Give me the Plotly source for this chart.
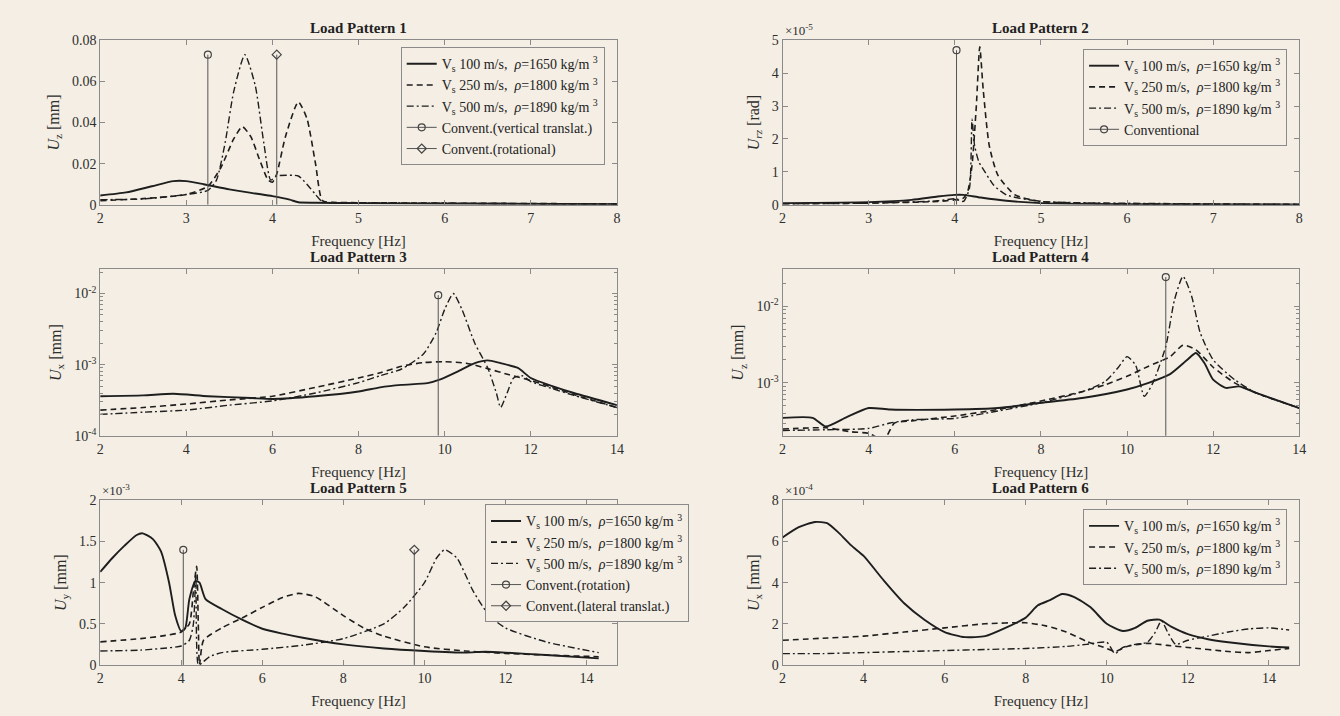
import plotly.graph_objects as go

# ---------------- data ----------------
# Panel 1 : Load Pattern 1, U_z [mm]
p1_x_s = [2, 2.3, 2.6, 2.85, 3.0, 3.2, 3.5, 3.8, 4.0, 4.2, 4.3, 4.5, 5, 6, 8]
p1_y_s = [0.0045, 0.006, 0.009, 0.0115, 0.0115, 0.010, 0.0075, 0.0055, 0.0042, 0.0025, 0.0012, 0.001, 0.0008, 0.0006, 0.0003]
p1_x_d = [2, 2.5, 3.0, 3.25, 3.4, 3.55, 3.65, 3.75, 3.85, 3.95, 4.0, 4.05, 4.15, 4.3, 4.4, 4.5, 4.58, 4.7, 5, 6, 8]
p1_y_d = [0.002, 0.003, 0.005, 0.009, 0.018, 0.032, 0.038, 0.033, 0.022, 0.012, 0.011, 0.015, 0.033, 0.050, 0.042, 0.02, 0.002, 0.0012, 0.001, 0.0008, 0.0004]
p1_x_dd = [2, 2.5, 3.0, 3.25, 3.35, 3.45, 3.55, 3.68, 3.8, 3.9, 3.98, 4.05, 4.3, 4.4, 4.5, 4.58, 5, 8]
p1_y_dd = [0.0025, 0.0028, 0.005, 0.007, 0.012, 0.03, 0.055, 0.073, 0.058, 0.03, 0.012, 0.014, 0.014, 0.01, 0.005, 0.0015, 0.001, 0.0004]
p1_conv_x = [3.25, 4.05]
p1_conv_y = [0.073, 0.073]

# Panel 2 : Load Pattern 2, U_rz [rad] (x 1e-5)
p2_x_s = [2, 3, 3.5, 3.8, 4.0, 4.1, 4.3, 4.6, 5, 6, 8]
p2_y_s = [0.05, 0.08, 0.15, 0.25, 0.3, 0.3, 0.22, 0.12, 0.05, 0.02, 0.01]
p2_x_d = [2, 3, 3.8, 4.0, 4.1, 4.15, 4.2, 4.25, 4.29, 4.33, 4.4, 4.5, 4.7, 5, 5.5, 6, 8]
p2_y_d = [0.03, 0.05, 0.1, 0.15, 0.2, 0.4, 1.2, 3.0, 4.8, 3.5, 1.8, 0.9, 0.3, 0.1, 0.05, 0.03, 0.01]
p2_x_dd = [2, 3, 3.8, 4.0, 4.1, 4.17, 4.2, 4.23, 4.28, 4.35, 4.45, 4.6, 5, 5.5, 8]
p2_y_dd = [0.03, 0.05, 0.12, 0.18, 0.1, 0.5, 2.6, 1.8, 1.3, 1.0, 0.6, 0.3, 0.1, 0.06, 0.01]
p2_conv_x = [4.02]
p2_conv_y = [4.7]

# Panel 3 : Load Pattern 3, U_x [mm] (log)
p3_x_s = [2, 3, 3.7, 4.5, 5.5, 6, 7, 8, 8.5, 9, 9.6, 9.9, 10.3, 10.7, 11.0, 11.3, 11.7, 12, 12.5, 13, 14]
p3_y_s = [3.6e-4, 3.7e-4, 3.9e-4, 3.6e-4, 3.4e-4, 3.3e-4, 3.6e-4, 4.2e-4, 4.8e-4, 5.2e-4, 5.5e-4, 6.2e-4, 8e-4, 1.05e-3, 1.15e-3, 1.05e-3, 9e-4, 6.5e-4, 5e-4, 4e-4, 2.7e-4]
p3_x_d = [2, 3, 4, 5, 6, 7, 8, 8.5, 9, 9.5, 10, 10.5, 11, 11.5, 12, 12.5, 13, 14]
p3_y_d = [2.3e-4, 2.5e-4, 2.8e-4, 3.2e-4, 3.6e-4, 4.8e-4, 6.5e-4, 7.7e-4, 9.5e-4, 1.07e-3, 1.1e-3, 1.05e-3, 8.8e-4, 7.2e-4, 6e-4, 4.8e-4, 3.8e-4, 2.5e-4]
p3_x_dd = [2, 3, 4, 5, 6, 7, 8, 8.5, 9, 9.5, 9.8, 10.0, 10.2, 10.4, 10.7, 11.0, 11.2, 11.3, 11.45, 11.6, 11.8, 12, 12.5, 13, 14]
p3_y_dd = [2.0e-4, 2.15e-4, 2.3e-4, 2.7e-4, 3.1e-4, 4e-4, 5.6e-4, 7e-4, 8.7e-4, 1.4e-3, 2.8e-3, 6e-3, 1.0e-2, 6e-3, 2e-3, 9e-4, 4e-4, 2.5e-4, 4e-4, 6.5e-4, 7e-4, 5.8e-4, 4.6e-4, 3.7e-4, 2.5e-4]
p3_conv_x = [9.85]
p3_conv_y = [9.5e-3]

# Panel 4 : Load Pattern 4, U_z [mm] (log)
p4_x_s = [2, 2.7, 3.0, 3.5, 4.0, 4.5, 6, 7, 8, 9, 10, 10.5, 11, 11.4, 11.6, 11.8, 12.0, 12.3, 12.6, 13, 14]
p4_y_s = [3.5e-4, 3.5e-4, 2.7e-4, 3.6e-4, 4.7e-4, 4.5e-4, 4.5e-4, 4.7e-4, 5.5e-4, 6.4e-4, 8.2e-4, 1.0e-3, 1.3e-3, 2.0e-3, 2.45e-3, 1.8e-3, 1.1e-3, 8.6e-4, 9e-4, 7.4e-4, 4.7e-4]
p4_x_d = [2, 3, 3.6, 4.0, 4.35, 4.6, 5, 6, 7, 8, 9, 9.5, 10, 10.5, 11, 11.3, 11.6, 12, 12.5, 13, 14]
p4_y_d = [2.5e-4, 2.6e-4, 2.3e-4, 2.2e-4, 1.8e-4, 3.0e-4, 3.2e-4, 3.7e-4, 4.5e-4, 5.8e-4, 7.8e-4, 9.5e-4, 1.22e-3, 1.65e-3, 2.2e-3, 3.1e-3, 2.7e-3, 1.6e-3, 1.0e-3, 7.4e-4, 4.7e-4]
p4_x_dd = [2, 3, 4, 4.5, 5, 6, 7, 8, 9, 9.5, 9.8, 10.0, 10.2, 10.4, 10.6, 10.9, 11.1, 11.3, 11.5, 11.7, 12.0, 12.5, 13, 14]
p4_y_dd = [2.4e-4, 2.45e-4, 2.55e-4, 3.0e-4, 3.3e-4, 3.45e-4, 4.3e-4, 5.5e-4, 7.8e-4, 1.05e-3, 1.6e-3, 2.2e-3, 1.7e-3, 6.7e-4, 1.0e-3, 3.0e-3, 1.2e-2, 2.45e-2, 1.35e-2, 4.5e-3, 2.0e-3, 1.1e-3, 7.4e-4, 4.7e-4]
p4_conv_x = [10.9]
p4_conv_y = [2.4e-2]

# Panel 5 : Load Pattern 5, U_y [mm] (x 1e-3)
p5_x_s = [2, 2.3, 2.6, 2.9, 3.05, 3.3, 3.5, 3.7, 3.85, 4.0, 4.1, 4.2, 4.35, 4.45, 4.6, 5.0, 5.5, 6.0, 6.5, 7, 8, 9, 10, 11, 11.5, 12, 13, 14.3]
p5_y_s = [1.13, 1.3, 1.45, 1.58, 1.6, 1.53, 1.38, 1.0, 0.6, 0.41, 0.45, 0.8, 1.02, 1.0, 0.8, 0.68, 0.55, 0.44, 0.38, 0.33, 0.25, 0.2, 0.17, 0.15, 0.16, 0.15, 0.12, 0.08]
p5_x_d = [2, 3, 3.5, 4.0, 4.2, 4.3, 4.38, 4.42, 4.45, 4.55, 5, 5.5, 6, 6.5, 6.9, 7.3, 8, 8.5, 9, 10, 11, 12, 13, 14.3]
p5_y_d = [0.28, 0.32, 0.35, 0.4, 0.5, 0.9, 1.2, 0.5, 0.0, 0.3, 0.45, 0.57, 0.7, 0.82, 0.87, 0.83, 0.6, 0.45, 0.35, 0.22, 0.17, 0.14, 0.12, 0.1]
p5_x_dd = [2, 3, 3.5, 4.0, 4.2, 4.3, 4.36, 4.42, 4.5, 4.7, 5, 6, 7, 8, 9, 9.5, 10, 10.3, 10.5, 10.8, 11.2, 11.6, 12, 13, 14.3]
p5_y_dd = [0.17, 0.18, 0.2, 0.23, 0.3, 0.5, 1.1, 0.0, 0.02, 0.1, 0.15, 0.19, 0.24, 0.32, 0.5, 0.7, 1.0, 1.3, 1.4, 1.3, 0.9, 0.6, 0.45, 0.28, 0.15]
p5_conv_rot_x = [4.05]
p5_conv_rot_y = [1.4]
p5_conv_lat_x = [9.75]
p5_conv_lat_y = [1.4]

# Panel 6 : Load Pattern 6, U_x [mm] (x 1e-4)
p6_x_s = [2, 2.4, 2.8, 3.1, 3.4, 3.7, 4.0, 4.5, 5, 5.5, 6, 6.5, 7, 7.5, 8, 8.3, 8.6, 8.9, 9.2, 9.6, 10, 10.4, 10.7, 11, 11.3, 11.6, 12, 12.5, 13, 14, 14.5]
p6_y_s = [6.2, 6.7, 6.95, 6.9, 6.4, 5.8, 5.3, 4.1, 3.0, 2.2, 1.6, 1.35, 1.4, 1.8, 2.3, 2.9, 3.15, 3.45, 3.3, 2.8, 2.0, 1.65, 1.8, 2.15, 2.2, 1.85, 1.5, 1.25, 1.1, 0.9, 0.85]
p6_x_d = [2, 3, 4, 5, 6, 7, 8, 8.5, 9, 9.5, 10, 10.2, 10.5, 11, 11.5, 12, 13, 13.5, 14, 14.5]
p6_y_d = [1.2, 1.3, 1.4, 1.6, 1.8, 2.0, 2.05, 1.9, 1.6, 1.15, 0.8, 0.65, 0.9, 1.05, 0.95, 0.85, 0.65, 0.6, 0.7, 0.8]
p6_x_dd = [2, 3, 4, 5, 6, 7, 8, 9, 9.5, 10.0, 10.2, 10.4, 10.7, 11.0, 11.2, 11.35, 11.5, 11.7, 12, 12.5, 13, 13.5, 14, 14.5]
p6_y_dd = [0.55, 0.55, 0.6, 0.65, 0.7, 0.75, 0.8, 0.9, 1.0, 1.1, 0.55, 0.85, 1.0, 1.1, 1.6, 2.15, 1.6, 1.0, 1.2, 1.4, 1.6, 1.75, 1.8, 1.7]

series_names = ["V<sub>s</sub> 100 m/s,  <i>ρ</i>=1650 kg/m <sup>3</sup>",
                "V<sub>s</sub> 250 m/s,  <i>ρ</i>=1800 kg/m <sup>3</sup>",
                "V<sub>s</sub> 500 m/s,  <i>ρ</i>=1890 kg/m <sup>3</sup>"]

# ---------------- style ----------------
BG = '#f4eee4'
INK = '#1e1e1e'
AX = '#8a8a8a'
TXT = '#2e2e2e'
FONT = 'Liberation Serif'
W, H = 1340, 716

dash_styles = [dict(width=1.9, dash='solid'),
               dict(width=1.6, dash='6px,4px'),
               dict(width=1.4, dash='7px,3px,2px,3px')]

# panel geometry in pixels: (left, right) / (top, bottom)
cols = [(97, 618), (785, 1306)]
rows = [(34, 202), (268, 438), (504, 672)]

def xdom(c):
    return [cols[c][0] / W, cols[c][1] / W]

def ydom(r):
    return [1 - rows[r][1] / H, 1 - rows[r][0] / H]

fig = go.Figure()

panels = [
    dict(r=0, c=0, series=[(p1_x_s, p1_y_s), (p1_x_d, p1_y_d), (p1_x_dd, p1_y_dd)], legend='legend'),
    dict(r=0, c=1, series=[(p2_x_s, p2_y_s), (p2_x_d, p2_y_d), (p2_x_dd, p2_y_dd)], legend='legend2'),
    dict(r=1, c=0, series=[(p3_x_s, p3_y_s), (p3_x_d, p3_y_d), (p3_x_dd, p3_y_dd)], legend=None),
    dict(r=1, c=1, series=[(p4_x_s, p4_y_s), (p4_x_d, p4_y_d), (p4_x_dd, p4_y_dd)], legend=None),
    dict(r=2, c=0, series=[(p5_x_s, p5_y_s), (p5_x_d, p5_y_d), (p5_x_dd, p5_y_dd)], legend='legend3'),
    dict(r=2, c=1, series=[(p6_x_s, p6_y_s), (p6_x_d, p6_y_d), (p6_x_dd, p6_y_dd)], legend='legend4'),
]

for i, p in enumerate(panels):
    xa = 'x' if i == 0 else f'x{i+1}'
    ya = 'y' if i == 0 else f'y{i+1}'
    for k, (xs, ys) in enumerate(p['series']):
        fig.add_trace(go.Scatter(
            x=xs, y=ys, mode='lines', xaxis=xa, yaxis=ya,
            line=dict(color=INK, shape='spline', smoothing=0.6, **dash_styles[k]),
            name=series_names[k], showlegend=p['legend'] is not None,
            legend=p['legend'] if p['legend'] else 'legend'))

def add_stems(i, xs, ys, base, symbol, name, legend):
    xa = 'x' if i == 0 else f'x{i+1}'
    ya = 'y' if i == 0 else f'y{i+1}'
    for x0, y0 in zip(xs, ys):
        fig.add_trace(go.Scatter(x=[x0, x0], y=[base, y0], mode='lines', xaxis=xa, yaxis=ya,
                                 line=dict(color='#555555', width=1), showlegend=False, hoverinfo='skip'))
        fig.add_trace(go.Scatter(x=[x0], y=[y0], mode='markers', xaxis=xa, yaxis=ya,
                                 marker=dict(symbol=symbol, size=7, color='#444444', line=dict(width=1.2, color='#444444')),
                                 showlegend=False))
    if name:
        fig.add_trace(go.Scatter(x=[None], y=[None], mode='lines+markers', xaxis=xa, yaxis=ya,
                                 line=dict(color='#555555', width=1),
                                 marker=dict(symbol=symbol, size=7, color='#444444', line=dict(width=1.2, color='#444444')),
                                 name=name, legend=legend))

add_stems(0, p1_conv_x[:1], p1_conv_y[:1], 0, 'circle-open', 'Convent.(vertical translat.)', 'legend')
add_stems(0, p1_conv_x[1:], p1_conv_y[1:], 0, 'diamond-open', 'Convent.(rotational)', 'legend')
add_stems(1, p2_conv_x, p2_conv_y, 0, 'circle-open', 'Conventional', 'legend2')
add_stems(2, p3_conv_x, p3_conv_y, 1e-4, 'circle-open', None, None)
add_stems(3, p4_conv_x, p4_conv_y, 1e-4, 'circle-open', None, None)
add_stems(4, p5_conv_rot_x, p5_conv_rot_y, 0, 'circle-open', 'Convent.(rotation)', 'legend3')
add_stems(4, p5_conv_lat_x, p5_conv_lat_y, 0, 'diamond-open', 'Convent.(lateral translat.)', 'legend3')

tickfont = dict(family=FONT, size=14, color=TXT)
base_axis = dict(showline=True, linecolor=AX, linewidth=1, mirror='ticks', ticks='inside',
                 ticklen=5, tickcolor=AX, showgrid=False, zeroline=False, tickfont=tickfont)

xlab = dict(text='Frequency [Hz]', font=dict(family=FONT, size=15, color=TXT), standoff=10)

ax_specs = [
    dict(xr=[2, 8], xt=[2, 3, 4, 5, 6, 7, 8], yr=[0, 0.08], yt=[0, 0.02, 0.04, 0.06, 0.08],
         ytt=['0', '0.02', '0.04', '0.06', '0.08'], ylab='<i>U</i><sub>z</sub> [mm]', log=False),
    dict(xr=[2, 8], xt=[2, 3, 4, 5, 6, 7, 8], yr=[0, 5], yt=[0, 1, 2, 3, 4, 5],
         ytt=['0', '1', '2', '3', '4', '5'], ylab='<i>U</i><sub><i>rz</i></sub> [rad]', log=False),
    dict(xr=[2, 14], xt=[2, 4, 6, 8, 10, 12, 14], yr=[-4, -1.66], yt=[1e-4, 1e-3, 1e-2],
         ytt=['10<sup>-4</sup>', '10<sup>-3</sup>', '10<sup>-2</sup>'], ylab='<i>U</i><sub>x</sub> [mm]', log=True),
    dict(xr=[2, 14], xt=[2, 4, 6, 8, 10, 12, 14], yr=[-3.69, -1.52], yt=[1e-3, 1e-2],
         ytt=['10<sup>-3</sup>', '10<sup>-2</sup>'], ylab='<i>U</i><sub>z</sub> [mm]', log=True),
    dict(xr=[2, 14.75], xt=[2, 4, 6, 8, 10, 12, 14], yr=[0, 2], yt=[0, 0.5, 1, 1.5, 2],
         ytt=['0', '0.5', '1', '1.5', '2'], ylab='<i>U</i><sub>y</sub> [mm]', log=False),
    dict(xr=[2, 14.75], xt=[2, 4, 6, 8, 10, 12, 14], yr=[0, 8], yt=[0, 2, 4, 6, 8],
         ytt=['0', '2', '4', '6', '8'], ylab='<i>U</i><sub>x</sub> [mm]', log=False),
]

minor_log = [m * 10.0 ** e for e in range(-5, -1) for m in range(2, 10)]

layout = {}
for i, (p, s) in enumerate(zip(panels, ax_specs)):
    xk = 'xaxis' if i == 0 else f'xaxis{i+1}'
    yk = 'yaxis' if i == 0 else f'yaxis{i+1}'
    ya = 'y' if i == 0 else f'y{i+1}'
    xa = 'x' if i == 0 else f'x{i+1}'
    layout[xk] = dict(base_axis, domain=xdom(p['c']), range=s['xr'], tickvals=s['xt'],
                      ticktext=[str(v) for v in s['xt']], anchor=ya, title=xlab)
    yd = dict(base_axis, domain=ydom(p['r']), range=s['yr'], tickvals=s['yt'], ticktext=s['ytt'],
              anchor=xa, title=dict(text=s['ylab'], font=dict(family=FONT, size=16, color=TXT), standoff=8))
    if s['log']:
        yd['type'] = 'log'
        yd['minor'] = dict(tickvals=minor_log, ticks='inside', ticklen=3, tickcolor=AX)
    layout[yk] = yd

fig.update_layout(**layout)

titles = ['Load Pattern 1', 'Load Pattern 2', 'Load Pattern 3', 'Load Pattern 4', 'Load Pattern 5', 'Load Pattern 6']
for i, (p, t) in enumerate(zip(panels, titles)):
    xc = (cols[p['c']][0] + cols[p['c']][1]) / 2 / W
    yt = 1 - (rows[p['r']][0] - 2) / H
    fig.add_annotation(text=f'<b>{t}</b>', x=xc, y=yt, xref='paper', yref='paper', xanchor='center',
                       yanchor='bottom', showarrow=False, font=dict(family=FONT, size=15, color='#222222'))

# exponent labels
for (r, c, txt) in [(0, 1, '×10<sup>-5</sup>'), (2, 0, '×10<sup>-3</sup>'), (2, 1, '×10<sup>-4</sup>')]:
    fig.add_annotation(text=txt, x=cols[c][0] / W, y=1 - rows[r][0] / H, xref='paper', yref='paper',
                       xanchor='left', yanchor='bottom', showarrow=False,
                       font=dict(family=FONT, size=13, color=TXT))

leg_base = dict(bgcolor=BG, bordercolor='#8a8a8a', borderwidth=1, xanchor='left', yanchor='top',
                font=dict(family=FONT, size=14, color='#222222'), tracegroupgap=0)
fig.update_layout(
    width=W, height=H, paper_bgcolor=BG, plot_bgcolor=BG,
    margin=dict(l=0, r=0, t=0, b=0),
    legend=dict(leg_base, x=400 / W, y=1 - 41 / H),
    legend2=dict(leg_base, x=1088 / W, y=1 - 43 / H),
    legend3=dict(leg_base, x=485 / W, y=1 - 508 / H),
    legend4=dict(leg_base, x=1088 / W, y=1 - 513 / H),
)

fig.write_html('out.html', config={'displayModeBar': False},
               post_script="document.body.style.margin='0px';document.body.style.background='%s';" % BG)
